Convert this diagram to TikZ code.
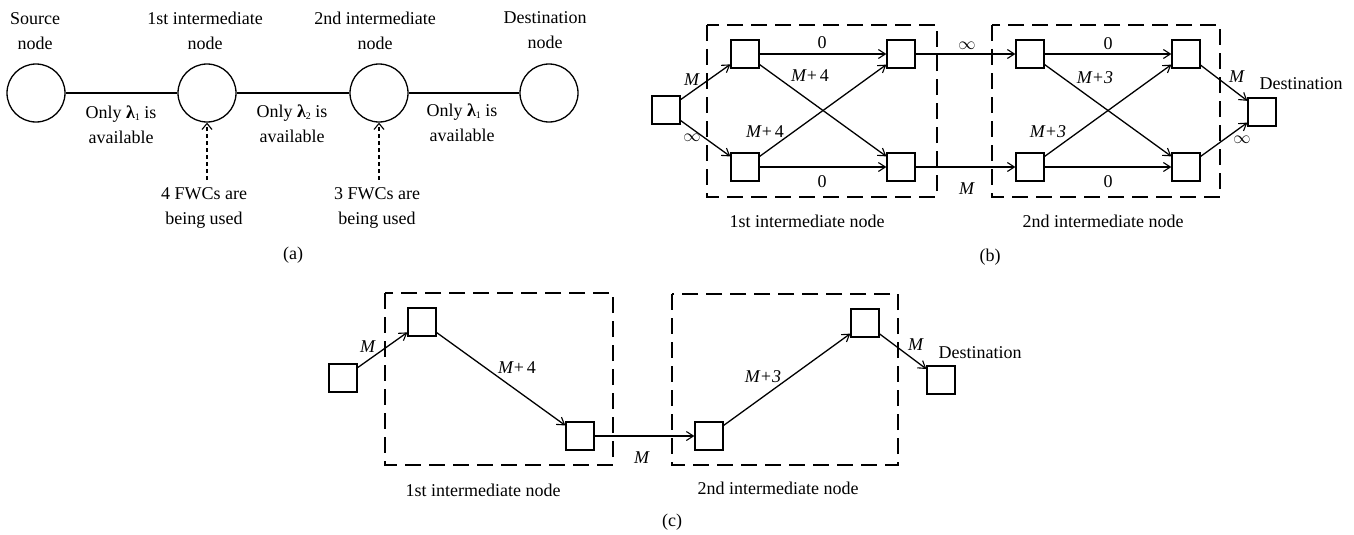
\documentclass[tikz,border=0pt]{standalone}
\usepackage{fontspec}
\setmainfont{Liberation Serif}
\usetikzlibrary{arrows.meta}
\newcommand{\lamsub}[1]{\textbf{λ}\raisebox{-0.25ex}{\fontsize{10}{10}\selectfont #1}}
\begin{document}
\begin{tikzpicture}[x=1pt,y=-1pt,
  every node/.style={font=\fontsize{18}{25}\selectfont},
  circ/.style={draw,circle,minimum size=58pt,inner sep=0pt,line width=1.3pt},
  sq/.style={draw,rectangle,minimum size=28pt,inner sep=0pt,line width=1.3pt},
  lbl/.style={align=center,inner sep=0pt},
  link/.style={line width=1.3pt},
  arr/.style={line width=1.3pt,-{Straight Barb[length=7pt,width=9pt,line width=1.1pt]}},
  fwc/.style={line width=1.1pt,dash pattern=on 4pt off 3pt,-{Straight Barb[length=6pt,width=10pt,line width=1.1pt]}},
  frame/.style={line width=1.3pt,dash pattern=on 16pt off 8pt}]
\useasboundingbox (0,0) rectangle (1354,535);

% ---------- (a) path of four nodes ----------
\node[circ] (s)  at (36,93)  {};
\node[circ] (i1) at (207,93) {};
\node[circ] (i2) at (379,93) {};
\node[circ] (d)  at (549,93) {};
\draw[link] (s) -- (i1);
\draw[link] (i1) -- (i2);
\draw[link] (i2) -- (d);

\node[lbl] (ts)  at (35,31)  {Source\\node};
\node[lbl] (ti1) at (205,31) {1st intermediate\\node};
\node[lbl] (ti2) at (375,31) {2nd intermediate\\node};
\node[lbl] (td)  at (545,30) {Destination\\node};

\node[lbl] (w1) at (121,125) {Only \lamsub{1} is\\available};
\node[lbl] (w2) at (292,124) {Only \lamsub{2} is\\available};
\node[lbl] (w3) at (462,123) {Only \lamsub{1} is\\available};

\coordinate (f1) at (207,180);
\coordinate (f2) at (379,180);
\draw[fwc] (f1) -- (i1.south);
\draw[fwc] (f2) -- (i2.south);
\node[lbl] (u1) at (204,208) {4 FWCs are\\being used};
\node[lbl] (u2) at (377,208) {3 FWCs are\\being used};
\node[lbl] (capa) at (293,255) {(a)};

% ---------- (b) auxiliary graph ----------
\draw[frame] (707,25) rectangle (937,197);
\draw[frame] (992,25) rectangle (1220,197);

\node[sq] (bs)  at (666,110) {};
\node[sq] (b11) at (745,54)  {};
\node[sq] (b12) at (745,167) {};
\node[sq] (b13) at (901,54)  {};
\node[sq] (b14) at (901,167) {};
\node[sq] (b21) at (1030,54) {};
\node[sq] (b22) at (1030,167) {};
\node[sq] (b23) at (1186,54) {};
\node[sq] (b24) at (1186,167) {};
\node[sq] (bd)  at (1262,112) {};

\draw[arr] (bs) -- (b11);
\draw[arr] (bs) -- (b12);
\draw[arr] (b11) -- (b13);
\draw[arr] (b11) -- (b14);
\draw[arr] (b12) -- (b13);
\draw[arr] (b12) -- (b14);
\draw[arr] (b13) -- (b21);
\draw[arr] (b14) -- (b22);
\draw[arr] (b21) -- (b23);
\draw[arr] (b21) -- (b24);
\draw[arr] (b22) -- (b23);
\draw[arr] (b22) -- (b24);
\draw[arr] (b23) -- (bd);
\draw[arr] (b24) -- (bd);

\node[lbl] at (692,80)  {\textit{M}};
\node[lbl] at (692,138) {$\infty$};
\node[lbl] at (822,43)  {0};
\node[lbl] at (810,76)  {\textit{M}+\,4};
\node[lbl] at (765,132) {\textit{M}+\,4};
\node[lbl] at (822,182) {0};
\node[lbl] at (967,46)  {$\infty$};
\node[lbl] at (967,189) {\textit{M}};
\node[lbl] at (1108,44) {0};
\node[lbl] at (1095,78) {\textit{M+3}};
\node[lbl] at (1048,132){\textit{M+3}};
\node[lbl] at (1108,182){0};
\node[lbl] at (1237,77) {\textit{M}};
\node[lbl] at (1242,140){$\infty$};
\node[lbl] at (1301,84) {Destination};
\node[lbl] at (807,221) {1st intermediate node};
\node[lbl] at (1103,221){2nd intermediate node};
\node[lbl] (capb) at (990,257) {(b)};

% ---------- (c) chosen path ----------
\draw[frame] (385,293) rectangle (613,465);
\draw[frame] (672,294) rectangle (898,465);

\node[sq] (cs) at (343,378) {};
\node[sq] (c1) at (422,322) {};
\node[sq] (c2) at (580,436) {};
\node[sq] (c3) at (709,436) {};
\node[sq] (c4) at (865,323) {};
\node[sq] (cd) at (941,380) {};

\draw[arr] (cs) -- (c1);
\draw[arr] (c1) -- (c2);
\draw[arr] (c2) -- (c3);
\draw[arr] (c3) -- (c4);
\draw[arr] (c4) -- (cd);

\node[lbl] at (368,347) {\textit{M}};
\node[lbl] at (517,368) {\textit{M}+\,4};
\node[lbl] at (642,458) {\textit{M}};
\node[lbl] at (763,377) {\textit{M+3}};
\node[lbl] at (916,345) {\textit{M}};
\node[lbl] at (980,353) {Destination};
\node[lbl] at (483,490) {1st intermediate node};
\node[lbl] at (778,488) {2nd intermediate node};
\node[lbl] (capc) at (672,522) {(c)};
\end{tikzpicture}
\end{document}
